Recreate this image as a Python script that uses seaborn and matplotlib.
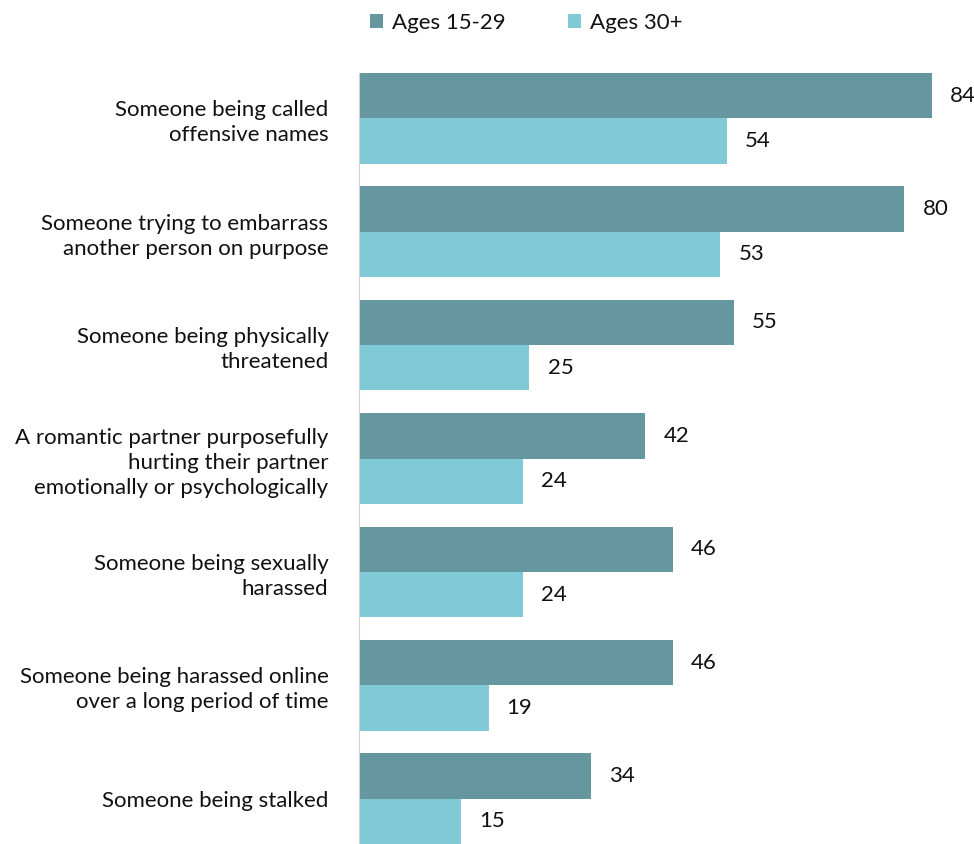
import matplotlib
matplotlib.use("Agg")

import pandas as pd
import matplotlib.pyplot as plt
import seaborn as sns

# ======================
# DATA
# ======================
categories = [
    "Someone being called\noffensive names",
    "Someone trying to embarrass\nanother person on purpose",
    "Someone being physically\nthreatened",
    "A romantic partner purposefully\nhurting their partner\nemotionally or psychologically",
    "Someone being sexually\nharassed",
    "Someone being harassed online\nover a long period of time",
    "Someone being stalked",
]
groups = ["Ages 15-29", "Ages 30+"]
young = [84, 80, 55, 42, 46, 46, 34]
older = [54, 53, 25, 24, 24, 19, 15]

colors = {"Ages 15-29": "#66969f", "Ages 30+": "#80c9d6"}

df = pd.DataFrame({
    "item": categories * 2,
    "group": [groups[0]] * len(young) + [groups[1]] * len(older),
    "value": young + older,
})

# ======================
# CHART
# ======================
sns.set_style("white")
plt.rcParams["font.family"] = ["Lato", "DejaVu Sans"]
FS = 16

fig = plt.figure(figsize=(9.74, 8.44), dpi=100)
ax = fig.add_axes([359 / 974, 0.0, 600 / 974, 1 - 73 / 844])

sns.barplot(
    data=df, y="item", x="value", hue="group",
    palette=colors, width=0.8, ax=ax, orient="h",
    saturation=1, edgecolor="none",
)

ax.set_xlim(0, 88)
ax.set_ylim(6.4, -0.4)
ax.set_xlabel("")
ax.set_ylabel("")
ax.set_xticks([])

for s in ["top", "right", "bottom"]:
    ax.spines[s].set_visible(False)
ax.spines["left"].set_color("#d0d0d0")
ax.spines["left"].set_linewidth(0.8)

ax.tick_params(axis="y", length=0, pad=22, labelsize=FS, labelcolor="#111111")
for t in ax.get_yticklabels():
    t.set_horizontalalignment("right")
    t.set_multialignment("right")
    t.set_linespacing(1.3)

for cont in ax.containers:
    ax.bar_label(cont, labels=[f"{int(v)}" for v in cont.datavalues],
                 padding=13, fontsize=FS, color="#111111")

leg = ax.legend(
    loc="center left", bbox_to_anchor=(361 / 974, 1 - 23 / 844),
    bbox_transform=fig.transFigure, ncol=2, frameon=False,
    handlelength=0.6, handleheight=0.6, handletextpad=0.4,
    columnspacing=2.8, fontsize=FS, borderaxespad=0,
)
for txt in leg.get_texts():
    txt.set_color("#111111")

fig.savefig("out.png", dpi=100)
